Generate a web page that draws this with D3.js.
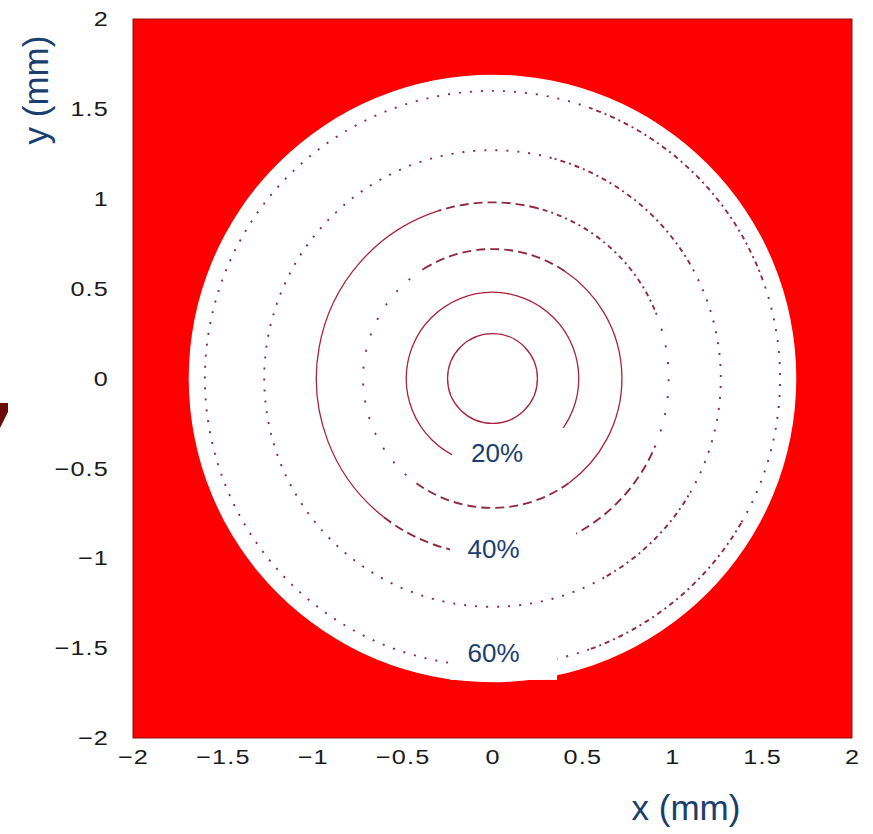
<!DOCTYPE html>
<html>
<head>
<meta charset="utf-8">
<script src="https://cdn.jsdelivr.net/npm/d3@7"></script>
<style>
  html, body { margin: 0; padding: 0; background: #ffffff; }
  svg { display: block; }
  .tick text { font-family: "Liberation Sans", Arial, Helvetica, sans-serif; font-size: 21px; fill: #1a1a1a; letter-spacing: 1px; }
</style>
</head>
<body>
<svg id="chart" width="873" height="834"></svg>
<script>
// Axis ticks (mm)
const xTicks = [-2, -1.5, -1, -0.5, 0, 0.5, 1, 1.5, 2];
const yTicks = [-2, -1.5, -1, -0.5, 0, 0.5, 1, 1.5, 2];

// Aperture (white disc) radius, mm
const discRadius = 1.69;

// Contour ring radii, mm (innermost to outermost)
const ringRadii = [0.25, 0.48, 0.72, 0.98, 1.27, 1.6];

// Arc pieces of each ring: ring index, start angle, end angle (deg, ccw from +x), line kind
const ringSegments = [
  [0, 0, 360, "solid"],
  [1, 0, 360, "solid"],
  [2, -54, 56, "solid"], [2, 56, 122, "dash"], [2, 122, 234, "sparse"], [2, 234, 306, "dash"],
  [3, 108, 232, "solid"], [3, 232, 337, "dash"], [3, 337, 383, "sparse"], [3, 23, 75, "dashdot"], [3, 75, 108, "dash"],
  [4, 75, 300, "dot"], [4, 300, 330, "dashdot"], [4, 330, 390, "dot"], [4, 30, 75, "dashdot"],
  [5, 70, 290, "dot"], [5, 290, 330, "dashdot"], [5, 330, 380, "dot"], [5, 20, 70, "dashdot"]
];

// Level labels and their centres (mm)
const levelLabels = ["20%", "40%", "60%"];
const labelX = [0.025, 0.006, 0.006];
const labelY = [-0.414, -0.949, -1.527];

// White backing boxes behind the labels: [x0, x1, yTop, yBottom] in mm
const labelBoxes = [
  [-0.225, 0.409, -0.275, -0.576],
  [-0.236, 0.465, -0.798, -1.121],
  [-0.236, 0.359, -1.371, -1.677]
];

const dashPatterns = {
  solid: null,
  dash: "9 5",
  dot: "2 9",
  sparse: "2 15",
  dashdot: "5 4 2 4"
};

const svg = d3.select("#chart");
const x = d3.scaleLinear().domain([-2, 2]).range([133, 852]);
const y = d3.scaleLinear().domain([-2, 2]).range([738, 19]);

const fmt = d => (d < 0 ? "\u2212" : "") + d3.format("~g")(Math.abs(d));
const stretch = 1.2;   // tick labels are set slightly wide

// Small dark-red marker at the left margin
svg.append("path")
  .attr("d", "M0,403 L8,403 L8,412 L0,428 Z")
  .attr("fill", "#6b0a0a");

// Red plot frame
svg.append("rect")
  .attr("x", x(-2)).attr("y", y(2))
  .attr("width", x(2) - x(-2)).attr("height", y(-2) - y(2))
  .attr("fill", "#ff0000")
  .attr("stroke", "#8a1010").attr("stroke-width", 1);

const cx = x(0), cy = y(0);
const px = r => x(r) - x(0);

// White aperture
svg.append("circle")
  .attr("cx", cx).attr("cy", cy).attr("r", px(discRadius))
  .attr("fill", "#ffffff");

// Contour rings
const toRad = a => a * Math.PI / 180;
svg.append("g").selectAll("path")
  .data(ringSegments)
  .join("path")
  .attr("d", s => {
    const p = d3.path();
    const r = px(ringRadii[s[0]]);
    const a0 = -toRad(s[1]), a1 = -toRad(s[2]);
    p.moveTo(cx + r * Math.cos(a0), cy + r * Math.sin(a0));
    p.arc(cx, cy, r, a0, a1, true);
    return p.toString();
  })
  .attr("fill", "none")
  .attr("stroke", s => s[3] === "solid" ? "#a8243c" : "#8e2a40")
  .attr("stroke-width", s => s[3] === "solid" ? 1.3 : 1.9)
  .attr("stroke-dasharray", s => dashPatterns[s[3]]);

// Label boxes and texts
const lab = svg.append("g");
lab.selectAll("rect")
  .data(labelBoxes)
  .join("rect")
  .attr("x", b => x(b[0])).attr("y", b => y(b[2]))
  .attr("width", b => x(b[1]) - x(b[0])).attr("height", b => y(b[3]) - y(b[2]))
  .attr("fill", "#ffffff");
lab.selectAll("text")
  .data(levelLabels)
  .join("text")
  .attr("x", (d, i) => x(labelX[i]))
  .attr("y", (d, i) => y(labelY[i]))
  .attr("dy", "0.36em")
  .attr("text-anchor", "middle")
  .attr("font-family", "Liberation Sans, Arial, sans-serif")
  .attr("font-size", 26)
  .attr("fill", "#1a3f6f")
  .text(d => d);

// Axes
const xPad = 11, yPad = 24;
const xAxis = svg.append("g")
  .attr("transform", `translate(0,${y(-2)})`)
  .call(d3.axisBottom(x).tickValues(xTicks).tickFormat(fmt).tickSize(0).tickPadding(xPad));
const yAxis = svg.append("g")
  .attr("transform", `translate(${x(-2)},0)`)
  .call(d3.axisLeft(y).tickValues(yTicks).tickFormat(fmt).tickSize(0).tickPadding(yPad));
[xAxis, yAxis].forEach(a => a.select(".domain").remove());
xAxis.selectAll("text").attr("font-family", null).attr("font-size", null)
  .attr("transform", `scale(${stretch},1)`);
yAxis.selectAll("text").attr("font-family", null).attr("font-size", null)
  .attr("x", -yPad / stretch)
  .attr("transform", `scale(${stretch},1)`);

// Axis titles
svg.append("text")
  .attr("x", 686).attr("y", 820)
  .attr("text-anchor", "middle")
  .attr("font-family", "Liberation Sans, Arial, sans-serif")
  .attr("font-size", 35)
  .attr("fill", "#1a3f6f")
  .text("x (mm)");
svg.append("text")
  .attr("transform", "translate(48,90) rotate(-90)")
  .attr("text-anchor", "middle")
  .attr("font-family", "Liberation Sans, Arial, sans-serif")
  .attr("font-size", 35)
  .attr("fill", "#1a3f6f")
  .text("y (mm)");
</script>
</body>
</html>
